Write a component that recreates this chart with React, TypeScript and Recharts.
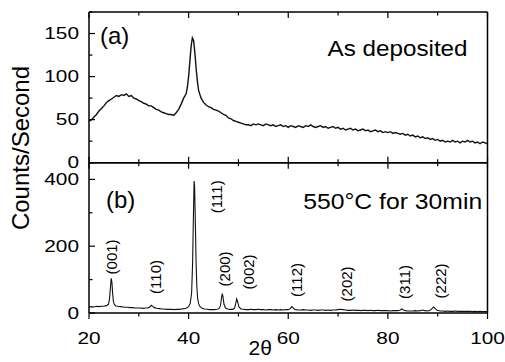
import { LineChart, Line, XAxis, YAxis, ReferenceDot, Label } from "recharts";

// 2theta / counts
const aTheta = [
  20, 20.5, 21, 21.5, 22, 22.5, 23, 23.5, 24, 24.5, 25, 25.5, 26, 26.5, 27, 27.5, 28, 28.5, 29, 29.5,
  30, 30.5, 31, 31.5, 32, 32.5, 33, 33.5, 34, 34.5, 35, 35.5, 36, 36.5, 37, 37.5, 38, 38.5, 39, 39.5,
  39.75, 40, 40.25, 40.5, 40.75, 41, 41.25, 41.5, 41.75, 42, 42.5, 43, 43.5, 44, 44.5, 45, 45.5, 46, 46.5, 47,
  47.5, 48, 48.5, 49, 49.5, 50, 50.5, 51, 51.5, 52, 52.5, 53, 53.5, 54, 54.5, 55, 55.5, 56, 56.5, 57,
  57.5, 58, 58.5, 59, 59.5, 60, 60.5, 61, 61.5, 62, 62.5, 63, 63.5, 64, 64.5, 65, 65.5, 66, 66.5, 67,
  67.5, 68, 68.5, 69, 69.5, 70, 70.5, 71, 71.5, 72, 72.5, 73, 73.5, 74, 74.5, 75, 75.5, 76, 76.5, 77,
  77.5, 78, 78.5, 79, 79.5, 80, 80.5, 81, 81.5, 82, 82.5, 83, 83.5, 84, 84.5, 85, 85.5, 86, 86.5, 87,
  87.5, 88, 88.5, 89, 89.5, 90, 90.5, 91, 91.5, 92, 92.5, 93, 93.5, 94, 94.5, 95, 95.5, 96, 96.5, 97,
  97.5, 98, 98.5, 99, 99.5, 100,
];
const aCounts = [
  48, 50, 53, 56, 60, 63, 66, 70, 72, 74, 76, 78, 77, 79, 78, 80, 77, 78, 75, 74,
  72, 71, 69, 68, 66, 66, 64, 62, 61, 59, 58, 57, 56, 56, 55, 58, 62, 68, 75, 80,
  88, 100, 118, 135, 145, 142, 128, 110, 95, 84, 75, 70, 67, 65, 64, 62, 61, 60, 58, 56,
  55, 52, 51, 49, 48, 47, 46, 45, 44, 44, 43, 45, 44, 45, 44, 43, 45, 44, 43, 44,
  42, 43, 44, 42, 43, 41, 43, 42, 41, 43, 42, 41, 43, 42, 44, 42, 41, 42, 43, 41,
  42, 40, 41, 42, 40, 41, 39, 40, 38, 39, 40, 38, 39, 37, 38, 39, 37, 38, 36, 37,
  38, 36, 37, 35, 36, 35, 36, 34, 35, 34, 33, 34, 32, 33, 31, 32, 30, 31, 29, 30,
  28, 29, 27, 28, 26, 27, 25, 26, 24, 25, 24, 26, 24, 25, 23, 25, 24, 26, 24, 25,
  23, 24, 22, 24, 23, 22,
];

const bTheta = [
  20, 20.5, 21, 21.5, 22, 22.5, 23, 23.5, 23.9, 24.1, 24.3, 24.45, 24.6, 24.75, 24.9, 25.1, 25.4, 25.8,
  26.3, 26.8, 27.3, 27.8, 28.3, 28.8, 29.3, 29.8, 30.3, 30.8, 31.3, 31.8, 32.2, 32.5, 32.8, 33.1, 33.6,
  34.1, 34.6, 35.1, 35.6, 36.1, 36.6, 37.1, 37.6, 38.1, 38.6, 39.1, 39.6, 40, 40.3, 40.6, 40.8, 40.95,
  41.1, 41.2, 41.35, 41.5, 41.65, 41.8, 42, 42.3, 42.7, 43.2, 43.7, 44.2, 44.7, 45.2, 45.7, 46.1, 46.4,
  46.6, 46.75, 46.9, 47.1, 47.4, 47.8, 48.3, 48.8, 49.2, 49.45, 49.65, 49.85, 50.1, 50.5, 51, 51.5, 52,
  52.5, 53, 53.5, 54, 54.5, 55, 55.5, 56, 56.5, 57, 57.5, 58, 58.5, 59, 59.5, 60, 60.4, 60.7, 61, 61.4,
  62, 62.5, 63, 63.5, 64, 64.5, 65, 65.5, 66, 66.5, 67, 67.5, 68, 68.5, 69, 69.5, 70, 70.5, 71, 71.5,
  72, 72.5, 73, 73.5, 74, 74.5, 75, 75.5, 76, 76.5, 77, 77.5, 78, 78.5, 79, 79.5, 80, 80.5, 81, 81.5,
  82, 82.5, 82.8, 83.1, 83.5, 84, 84.5, 85, 85.5, 86, 86.5, 87, 87.4, 88, 88.5, 88.9, 89.2, 89.5, 89.9,
  90.5, 91, 91.5, 92, 92.5, 93, 93.5, 94, 94.5, 95, 95.5, 96, 96.5, 97, 97.5, 98, 98.5, 99, 99.5, 100,
];
const bCounts = [
  18, 19, 18, 20, 19, 20, 20, 22, 26, 40, 75, 104, 92, 58, 34, 25, 21, 20,
  19, 18, 17, 17, 16, 16, 15, 15, 15, 14, 15, 15, 18, 23, 20, 16, 14,
  13, 12, 12, 11, 11, 11, 10, 11, 11, 12, 13, 15, 19, 28, 60, 150, 280,
  395, 380, 270, 150, 80, 45, 28, 19, 14, 12, 11, 10, 10, 10, 11, 13, 22,
  45, 58, 48, 26, 15, 12, 11, 11, 14, 28, 42, 33, 18, 12, 11, 10, 10,
  11, 10, 10, 11, 10, 10, 9, 10, 10, 9, 10, 9, 10, 9, 10, 10, 13, 19, 15, 10,
  9, 9, 10, 9, 9, 8, 9, 9, 8, 9, 9, 8, 9, 8, 9, 9, 10, 11, 10, 9,
  8, 8, 9, 8, 8, 7, 8, 8, 7, 8, 7, 7, 8, 7, 7, 7, 7, 6, 7, 7,
  7, 9, 12, 9, 7, 6, 6, 6, 7, 6, 7, 9, 7, 6, 8, 14, 18, 13, 8,
  6, 6, 5, 6, 5, 5, 6, 5, 5, 5, 5, 5, 5, 4, 5, 4, 5, 4, 4, 4,
];

const xTicks = [20, 30, 40, 50, 60, 70, 80, 90, 100];
const xLabeled = [20, 40, 60, 80, 100];
const aTicks = [0, 25, 50, 75, 100, 125, 150, 175];
const aLabeled = [0, 50, 100, 150];
const bTicks = [0, 100, 200, 300, 400];
const bLabeled = [0, 200, 400];

const peakNames = ["(001)", "(110)", "(111)", "(200)", "(002)", "(112)", "(202)", "(311)", "(222)"];
const peakLabelTheta = [24.6, 33.3, 45.5, 47.3, 52.0, 61.6, 71.6, 83.3, 90.5];
const peakLabelCounts = [168, 108, 348, 132, 123, 99, 87, 93, 96];

const aData = aTheta.map((x, i) => ({ x, y: aCounts[i] }));
const bData = bTheta.map((x, i) => ({ x, y: bCounts[i] }));

const FONT = "'Liberation Sans', Arial, sans-serif";

const XTick = ({ x, y, payload, dir, showLabel }: any) => {
  const major = xLabeled.includes(payload.value);
  const len = major ? 6 : 3.5;
  return (
    <g>
      <line x1={x} y1={y} x2={x} y2={y + dir * len} stroke="#000" strokeWidth={1.2} />
      {showLabel && major && (
        <text
          transform={`translate(${x},${y + 31}) scale(1.3,1)`}
          textAnchor="middle"
          fontSize={16}
          fontFamily={FONT}
          fill="#000"
        >
          {payload.value}
        </text>
      )}
    </g>
  );
};

const YTick = ({ x, y, payload, labeled, side }: any) => {
  const major = labeled.includes(payload.value);
  const len = major ? 6 : 3.5;
  const d = side === "l" ? 1 : -1;
  return (
    <g>
      <line x1={x} y1={y} x2={x + d * len} y2={y} stroke="#000" strokeWidth={1.2} />
      {side === "l" && major && (
        <text
          transform={`translate(${x - 10},${y}) scale(1.3,1)`}
          textAnchor="end"
          dominantBaseline="central"
          fontSize={16}
          fontFamily={FONT}
          fill="#000"
        >
          {payload.value}
        </text>
      )}
    </g>
  );
};

const axisLine = { stroke: "#000", strokeWidth: 1.5 };

const note = (text: string, anchor: string, size: number, len?: number) => (p: any) => (
  <text
    x={p.cx}
    y={p.cy}
    textAnchor={anchor}
    fontSize={size}
    fontFamily={FONT}
    fill="#000"
    textLength={len}
    lengthAdjust={len ? "spacingAndGlyphs" : undefined}
  >
    {text}
  </text>
);

const peakLabel = (text: string) => (p: any) => (
  <text
    transform={`translate(${p.cx},${p.cy}) rotate(-90)`}
    textAnchor="middle"
    dominantBaseline="central"
    fontSize={15}
    fontFamily={FONT}
    fill="#000"
  >
    {text}
  </text>
);

export default function App() {
  return (
    <div style={{ position: "absolute", left: 0, top: 0, width: 505, height: 362, background: "#fff" }}>
      <div
        style={{
          position: "absolute",
          left: 21,
          top: 148,
          transform: "translate(-50%,-50%) rotate(-90deg)",
          fontFamily: FONT,
          fontSize: 24,
          whiteSpace: "nowrap",
          color: "#000",
        }}
      >
        Counts/Second
      </div>

      {/* (a) as deposited */}
      <div style={{ position: "absolute", left: 0, top: 0 }}>
        <LineChart width={505} height={175} data={aData} margin={{ top: 2, right: 7.5, bottom: 2.3, left: 29 }}>
          <XAxis
            xAxisId="b"
            type="number"
            dataKey="x"
            domain={[20, 100]}
            ticks={xTicks}
            interval={0}
            height={10}
            axisLine={axisLine}
            tickLine={false}
            tickSize={0}
            tickMargin={0}
            tick={(p: any) => <XTick {...p} dir={-1} showLabel={false} />}
          />
          <XAxis
            xAxisId="t"
            orientation="top"
            type="number"
            dataKey="x"
            domain={[20, 100]}
            ticks={xTicks}
            interval={0}
            height={10}
            axisLine={axisLine}
            tickLine={false}
            tickSize={0}
            tickMargin={0}
            tick={(p: any) => <XTick {...p} dir={1} showLabel={false} />}
          />
          <YAxis
            yAxisId="l"
            domain={[0, 175]}
            ticks={aTicks}
            interval={0}
            width={60}
            axisLine={axisLine}
            tickLine={false}
            tickSize={0}
            tickMargin={0}
            tick={(p: any) => <YTick {...p} labeled={aLabeled} side="l" />}
          />
          <YAxis
            yAxisId="r"
            orientation="right"
            domain={[0, 175]}
            ticks={aTicks}
            interval={0}
            width={10}
            axisLine={axisLine}
            tickLine={false}
            tickSize={0}
            tickMargin={0}
            tick={(p: any) => <YTick {...p} labeled={aLabeled} side="r" />}
          />
          <Line
            xAxisId="b"
            yAxisId="l"
            dataKey="y"
            type="linear"
            stroke="#111"
            strokeWidth={1.4}
            dot={false}
            isAnimationActive={false}
          />
          <ReferenceDot xAxisId="b" yAxisId="l" x={22.2} y={138} r={0} shape={note("(a)", "start", 24)} />
          <ReferenceDot xAxisId="b" yAxisId="l" x={96} y={124} r={0} shape={note("As deposited", "end", 22, 140)} />
        </LineChart>
      </div>

      {/* (b) annealed */}
      <div style={{ position: "absolute", left: 0, top: 155 }}>
        <LineChart width={505} height={207} data={bData} margin={{ top: 2.7, right: 7.5, bottom: 0, left: 29 }}>
          <XAxis
            xAxisId="b"
            type="number"
            dataKey="x"
            domain={[20, 100]}
            ticks={xTicks}
            interval={0}
            height={49}
            axisLine={axisLine}
            tickLine={false}
            tickSize={0}
            tickMargin={0}
            tick={(p: any) => <XTick {...p} dir={1} showLabel />}
          >
            <Label
              content={({ viewBox }: any) => (
                <text
                  x={viewBox.x + viewBox.width / 2 - 28}
                  y={viewBox.y + 42}
                  textAnchor="middle"
                  fontSize={21}
                  fontFamily={FONT}
                  fill="#000"
                >
                  2θ
                </text>
              )}
            />
          </XAxis>
          <XAxis
            xAxisId="t"
            orientation="top"
            type="number"
            dataKey="x"
            domain={[20, 100]}
            ticks={xTicks}
            interval={0}
            height={5}
            axisLine={axisLine}
            tickLine={false}
            tickSize={0}
            tickMargin={0}
            tick={(p: any) => <XTick {...p} dir={1} showLabel={false} />}
          />
          <YAxis
            yAxisId="l"
            domain={[0, 450]}
            ticks={bTicks}
            interval={0}
            width={60}
            axisLine={axisLine}
            tickLine={false}
            tickSize={0}
            tickMargin={0}
            tick={(p: any) => <YTick {...p} labeled={bLabeled} side="l" />}
          />
          <YAxis
            yAxisId="r"
            orientation="right"
            domain={[0, 450]}
            ticks={bTicks}
            interval={0}
            width={10}
            axisLine={axisLine}
            tickLine={false}
            tickSize={0}
            tickMargin={0}
            tick={(p: any) => <YTick {...p} labeled={bLabeled} side="r" />}
          />
          <Line
            xAxisId="b"
            yAxisId="l"
            dataKey="y"
            type="linear"
            stroke="#111"
            strokeWidth={1.1}
            dot={false}
            isAnimationActive={false}
          />
          <ReferenceDot xAxisId="b" yAxisId="l" x={23.4} y={314} r={0} shape={note("(b)", "start", 24)} />
          <ReferenceDot xAxisId="b" yAxisId="l" x={63} y={310} r={0} shape={note("550°C for 30min", "start", 22, 179)} />
          {peakNames.map((name, i) => (
            <ReferenceDot
              key={name}
              xAxisId="b"
              yAxisId="l"
              x={peakLabelTheta[i]}
              y={peakLabelCounts[i]}
              r={0}
              shape={peakLabel(name)}
            />
          ))}
        </LineChart>
      </div>
    </div>
  );
}
